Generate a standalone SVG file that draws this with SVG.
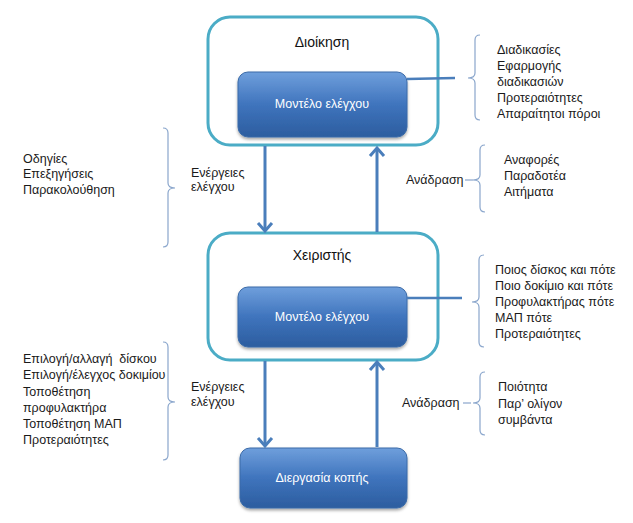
<svg xmlns="http://www.w3.org/2000/svg" width="633" height="523" viewBox="0 0 633 523">
<defs>
<linearGradient id="blue" x1="0" y1="0" x2="0" y2="1">
<stop offset="0" stop-color="#6f9fdc"/>
<stop offset="0.5" stop-color="#3f74bd"/>
<stop offset="1" stop-color="#2c5d9f"/>
</linearGradient>
<filter id="sh" x="-10%" y="-10%" width="120%" height="130%">
<feDropShadow dx="0" dy="2" stdDeviation="1.5" flood-color="#000" flood-opacity="0.35"/>
</filter>
<marker id="chev" markerUnits="userSpaceOnUse" markerWidth="20" markerHeight="20" viewBox="-10 -10 20 20" refX="0" refY="0" orient="auto" overflow="visible">
<path d="M-8,-7 L0,0 L-8,7" fill="none" stroke="#4a7ebb" stroke-width="3" stroke-linejoin="miter"/>
</marker>
</defs>
<style>
.outer{fill:#fff;stroke:#4bacc6;stroke-width:3}
.inner{fill:url(#blue);stroke:#3a6aa8;stroke-width:1;filter:url(#sh)}
.t{font-family:"Liberation Sans",Arial,sans-serif;font-size:12.5px;fill:#1a1a1a;white-space:pre}
.title{font-family:"Liberation Sans",Arial,sans-serif;font-size:14px;fill:#111;text-anchor:middle}
.wt{font-family:"Liberation Sans",Arial,sans-serif;font-size:12.5px;fill:#fff;text-anchor:middle}
.arr{stroke:#4a7ebb;stroke-width:3;fill:none}
.link{stroke:#4a7ebb;stroke-width:2.5;fill:none}
.brace{stroke:#8aa6cc;stroke-width:1.2;fill:none}
</style>

<g id="dioikisi">
<rect class="outer" x="208" y="17" width="230" height="128" rx="22"/>
<text class="title" x="322" y="47">Διοίκηση</text>
</g>
<g id="montelo1">
<rect class="inner" x="238" y="72" width="169" height="65" rx="10"/>
<text class="wt" x="322" y="108">Μοντέλο ελέγχου</text>
</g>
<g id="xeiristis">
<rect class="outer" x="208" y="233" width="230" height="127" rx="22"/>
<text class="title" x="322" y="260">Χειριστής</text>
</g>
<g id="montelo2">
<rect class="inner" x="238" y="287" width="169" height="60" rx="10"/>
<text class="wt" x="322" y="321">Μοντέλο ελέγχου</text>
</g>
<g id="diergasia">
<rect class="inner" x="240" y="448" width="167" height="60" rx="10"/>
<text class="wt" x="322" y="482">Διεργασία κοπής</text>
</g>

<g id="connectors">
<line class="arr" x1="265" y1="146" x2="265" y2="231" marker-end="url(#chev)"/>
<line class="arr" x1="377" y1="232" x2="377" y2="148" marker-end="url(#chev)"/>
<line class="arr" x1="265" y1="361" x2="265" y2="446" marker-end="url(#chev)"/>
<line class="arr" x1="377" y1="447" x2="377" y2="362" marker-end="url(#chev)"/>
<line class="link" x1="407" y1="79" x2="455" y2="78"/>
<line class="link" x1="407" y1="298" x2="462" y2="298"/>
<line class="brace" x1="465" y1="180" x2="473" y2="180"/>
<line class="brace" x1="463" y1="403" x2="471" y2="403"/>
</g>

<g id="braces">
<path class="brace" d="M480,35 Q475,35 475,40 L475,73 Q475,78 468,78 Q475,78 475,83 L475,115 Q475,120 480,120"/>
<path class="brace" d="M485,145 Q480,145 480,150 L480,175 Q480,180 473,180 Q480,180 480,185 L480,207 Q480,212 485,212"/>
<path class="brace" d="M484,255 Q479,255 479,260 L479,297 Q479,302 472,302 Q479,302 479,307 L479,342 Q479,347 484,347"/>
<path class="brace" d="M485,372 Q480,372 480,377 L480,398 Q480,403 473,403 Q480,403 480,408 L480,430 Q480,435 485,435"/>
<path class="brace" d="M163,128 Q168,128 168,133 L168,183 Q168,188 175,188 Q168,188 168,193 L168,242 Q168,247 163,247"/>
<path class="brace" d="M163,342 Q168,342 168,347 L168,397 Q168,402 175,402 Q168,402 168,407 L168,455 Q168,460 163,460"/>
</g>

<g id="labels">
<text class="t" x="497" y="54">Διαδικασίες</text>
<text class="t" x="497" y="70">Εφαρμογής</text>
<text class="t" x="497" y="86">διαδικασιών</text>
<text class="t" x="497" y="102">Προτεραιότητες</text>
<text class="t" x="497" y="118">Απαραίτητοι πόροι</text>

<text class="t" x="23" y="163">Οδηγίες</text>
<text class="t" x="23" y="178">Επεξηγήσεις</text>
<text class="t" x="23" y="194">Παρακολούθηση</text>

<text class="t" x="191" y="177">Ενέργειες</text>
<text class="t" x="191" y="191">ελέγχου</text>

<text class="t" x="406" y="184">Ανάδραση</text>
<text class="t" x="504" y="164">Αναφορές</text>
<text class="t" x="504" y="180">Παραδοτέα</text>
<text class="t" x="504" y="196">Αιτήματα</text>

<text class="t" x="495" y="274">Ποιος δίσκος και πότε</text>
<text class="t" x="495" y="290">Ποιο δοκίμιο και πότε</text>
<text class="t" x="495" y="306">Προφυλακτήρας πότε</text>
<text class="t" x="495" y="322">ΜΑΠ πότε</text>
<text class="t" x="495" y="338">Προτεραιότητες</text>

<text class="t" x="23" y="363">Επιλογή/αλλαγή  δίσκου</text>
<text class="t" x="23" y="379">Επιλογή/έλεγχος δοκιμίου</text>
<text class="t" x="23" y="396">Τοποθέτηση</text>
<text class="t" x="23" y="412">προφυλακτήρα</text>
<text class="t" x="23" y="428">Τοποθέτηση ΜΑΠ</text>
<text class="t" x="23" y="444">Προτεραιότητες</text>

<text class="t" x="191" y="391">Ενέργειες</text>
<text class="t" x="191" y="406">ελέγχου</text>

<text class="t" x="402" y="407">Ανάδραση</text>
<text class="t" x="498" y="391">Ποιότητα</text>
<text class="t" x="498" y="408">Παρ’ ολίγον</text>
<text class="t" x="498" y="424">συμβάντα</text>
</g>
</svg>
